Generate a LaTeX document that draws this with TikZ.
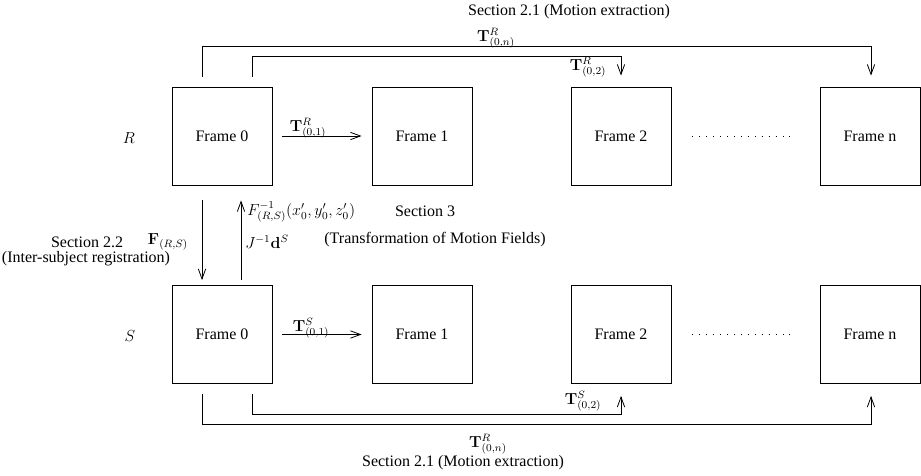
\documentclass[tikz,border=0pt]{standalone}
\usepackage[no-math]{fontspec}
\setmainfont{Liberation Serif}
\usetikzlibrary{arrows.meta}
\begin{document}
\begin{tikzpicture}[x=0.75pt,y=-0.75pt,
  every node/.style={font=\fontsize{12}{14}\selectfont},
  frame/.style={draw, line width=0.6pt, minimum width=75pt, minimum height=73.5pt, inner sep=0pt},
  lbl/.style={inner sep=0pt},
  conn/.style={line width=0.6pt},
  arr/.style={conn, -{Straight Barb[length=7.5pt,width=5.5pt,line width=0.6pt]}}
]
\useasboundingbox (0,0) rectangle (921,475);
% frames
\node[frame] (r0) at (222,136) {Frame 0};
\node[frame] (r1) at (422,136) {Frame 1};
\node[frame] (r2) at (621,136) {Frame 2};
\node[frame] (rn) at (870,136) {Frame n};
\node[frame] (s0) at (222,334.5) {Frame 0};
\node[frame] (s1) at (422,334.5) {Frame 1};
\node[frame] (s2) at (621,334.5) {Frame 2};
\node[frame] (sn) at (870,334.5) {Frame n};
% row labels
\node[lbl] (rl) at (129,138) {$R$};
\node[lbl] (sl) at (130,336) {$S$};
% dots
\draw[line width=0.6pt, dash pattern=on 0.6pt off 4.6pt] ([xshift=15.75pt]r2.east) -- ([xshift=-18.75pt]rn.west);
\draw[line width=0.6pt, dash pattern=on 0.6pt off 4.6pt] ([xshift=15.75pt]s2.east) -- ([xshift=-18.75pt]sn.west);
% horizontal arrows
\draw[arr, shorten <=7.5pt, shorten >=7.5pt] (r0.east) -- (r1.west);
\draw[arr, shorten <=7.5pt, shorten >=7.5pt] (s0.east) -- (s1.west);
\node[lbl] (t01r) at (308,128) {$\mathbf{T}^R_{(0,1)}$};
\node[lbl] (t01s) at (311,328) {$\mathbf{T}^S_{(0,1)}$};
% top long connectors
\draw[arr] ([xshift=-15pt,yshift=7.5pt]r0.north) -- ++(0,-30) -| ([xshift=0.75pt,yshift=8.25pt]rn.north);
\draw[arr] ([xshift=22.5pt,yshift=7.5pt]r0.north) -- ++(0,-20) -| ([yshift=8.25pt]r2.north);
\node[lbl] (top21) at (569,12) {Section 2.1 (Motion extraction)};
\node[lbl] (t0nr) at (496,38) {$\mathbf{T}^R_{(0,n)}$};
\node[lbl] (t02r) at (588,67) {$\mathbf{T}^R_{(0,2)}$};
% bottom long connectors
\draw[arr] ([xshift=-15pt,yshift=-7.5pt]s0.south) -- ++(0,30) -| ([xshift=0.75pt,yshift=-9pt]sn.south);
\draw[arr] ([xshift=22.5pt,yshift=-7.5pt]s0.south) -- ++(0,20) -| ([yshift=-9pt]s2.south);
\node[lbl] (t02s) at (583,401) {$\mathbf{T}^S_{(0,2)}$};
\node[lbl] (t0nb) at (488,444) {$\mathbf{T}^R_{(0,n)}$};
\node[lbl] (bot21) at (463,463) {Section 2.1 (Motion extraction)};
% vertical arrows
\draw[arr] ([xshift=-15pt,yshift=-11.25pt]r0.south) -- ([xshift=-15pt,yshift=3.75pt]s0.north);
\draw[arr] ([xshift=14.25pt,yshift=3.75pt]s0.north) -- ([xshift=14.25pt,yshift=-11.25pt]r0.south);
\node[lbl, anchor=west] (finv) at (247,212) {$F^{-1}_{(R,S)}(x'_0,y'_0,z'_0)$};
\node[lbl, anchor=west] (jd) at (245,242) {$J^{-1}\mathbf{d}^S$};
\node[lbl] (sec3) at (425,211) {Section 3};
\node[lbl] (tmf) at (435,240) {(Transformation of Motion Fields)};
\node[lbl] (sec22) at (87,242) {Section 2.2};
\node[lbl] (frs) at (168,242) {$\mathbf{F}_{(R,S)}$};
\node[lbl] (isr) at (86,259) {(Inter-subject registration)};
\end{tikzpicture}
\end{document}
